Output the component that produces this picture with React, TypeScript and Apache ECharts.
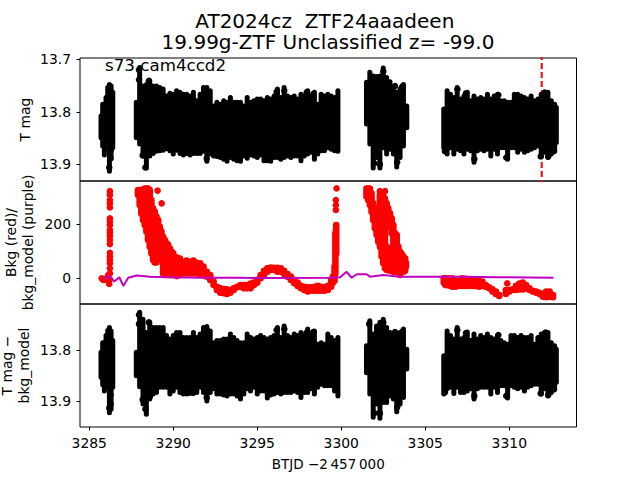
import React, { useEffect, useRef } from "react";
import * as echarts from "echarts";

const FONT = "'DejaVu Sans'";
const xTicks = [3285, 3290, 3295, 3300, 3305, 3310];
const topTicks = [13.7, 13.8, 13.9];
const midTicks = [0, 200];
const botTicks = [13.8, 13.9];

// Times of the sampled envelope of the black error-bar mass
const times = [
  3285.7, 3285.8, 3285.9, 3286.0, 3286.1, 3286.2, 3286.3, 3286.4,
  3287.8, 3288.0, 3288.2, 3288.4, 3288.6, 3288.8, 3289.0, 3289.2, 3289.4, 3289.6, 3289.8,
  3290.0, 3290.2, 3290.4, 3290.6, 3290.8, 3291.0, 3291.2, 3291.4, 3291.6, 3291.8,
  3292.0, 3292.2, 3292.4, 3292.6, 3292.8, 3293.0, 3293.2, 3293.4, 3293.6, 3293.8,
  3294.0, 3294.2, 3294.4, 3294.6, 3294.8, 3295.0, 3295.2, 3295.4, 3295.6, 3295.8,
  3296.0, 3296.2, 3296.4, 3296.6, 3296.8, 3297.0, 3297.2, 3297.4, 3297.6, 3297.8,
  3298.0, 3298.2, 3298.4, 3298.6, 3298.8, 3299.0, 3299.2, 3299.4, 3299.6, 3299.8,
  3301.5, 3301.7, 3301.9, 3302.1, 3302.3, 3302.5, 3302.7, 3302.9, 3303.1, 3303.3, 3303.5, 3303.7, 3303.9,
  3306.1, 3306.3, 3306.5, 3306.7, 3306.9, 3307.1, 3307.3, 3307.5, 3307.7, 3307.9,
  3308.1, 3308.3, 3308.5, 3308.7, 3308.9, 3309.1, 3309.3, 3309.5, 3309.7, 3309.9,
  3310.1, 3310.3, 3310.5, 3310.7, 3310.9, 3311.1, 3311.3, 3311.5, 3311.7, 3311.9,
  3312.1, 3312.3, 3312.5, 3312.7, 3312.8,
];

const topHigh = [
  13.803, 13.781, 13.781, 13.768, 13.749, 13.743, 13.746, 13.758,
  13.777, 13.711, 13.746, 13.743, 13.736, 13.746, 13.746, 13.749, 13.752, 13.765, 13.76,
  13.762, 13.755, 13.758, 13.762, 13.762, 13.765, 13.758, 13.774, 13.762, 13.749,
  13.749, 13.755, 13.784, 13.777, 13.781, 13.774, 13.777, 13.768, 13.777, 13.777,
  13.777, 13.784, 13.768, 13.777, 13.774, 13.771, 13.771, 13.774, 13.768, 13.771,
  13.765, 13.752, 13.768, 13.749, 13.765, 13.768, 13.765, 13.771, 13.762, 13.765,
  13.755, 13.765, 13.758, 13.781, 13.762, 13.765, 13.762, 13.765, 13.768, 13.755,
  13.739, 13.72, 13.727, 13.728, 13.727, 13.712, 13.73, 13.738, 13.749, 13.758, 13.752, 13.743, 13.784,
  13.79, 13.755, 13.762, 13.768, 13.749, 13.771, 13.765, 13.758, 13.774, 13.765,
  13.771, 13.768, 13.771, 13.762, 13.771, 13.765, 13.762, 13.774, 13.774, 13.777,
  13.777, 13.762, 13.762, 13.765, 13.768, 13.771, 13.765, 13.774, 13.771, 13.762,
  13.757, 13.758, 13.774, 13.781, 13.787,
];
const topLow = [
  13.854, 13.87, 13.887, 13.873, 13.87, 13.918, 13.892, 13.873,
  13.854, 13.866, 13.889, 13.912, 13.889, 13.884, 13.88, 13.879, 13.878, 13.875, 13.879,
  13.885, 13.878, 13.884, 13.887, 13.884, 13.887, 13.884, 13.884, 13.884, 13.88,
  13.899, 13.885, 13.889, 13.89, 13.892, 13.895, 13.899, 13.892, 13.895, 13.898,
  13.899, 13.889, 13.893, 13.887, 13.889, 13.892, 13.887, 13.898, 13.898, 13.899,
  13.892, 13.892, 13.895, 13.892, 13.889, 13.892, 13.889, 13.889, 13.898, 13.889,
  13.885, 13.882, 13.895, 13.885, 13.879, 13.879, 13.873, 13.876, 13.879, 13.88,
  13.828, 13.866, 13.912, 13.892, 13.912, 13.873, 13.885, 13.876, 13.885, 13.91, 13.892, 13.87, 13.835,
  13.873, 13.885, 13.873, 13.885, 13.876, 13.879, 13.885, 13.876, 13.879, 13.901,
  13.879, 13.876, 13.879, 13.876, 13.889, 13.876, 13.885, 13.873, 13.873, 13.895,
  13.873, 13.873, 13.882, 13.876, 13.882, 13.879, 13.876, 13.873, 13.87, 13.89,
  13.882, 13.892, 13.885, 13.879, 13.863,
];
const botHigh = [
  13.799, 13.78, 13.78, 13.766, 13.756, 13.75, 13.757, 13.776,
  13.799, 13.72, 13.734, 13.76, 13.74, 13.75, 13.75, 13.75, 13.75, 13.766, 13.773,
  13.766, 13.76, 13.76, 13.77, 13.77, 13.77, 13.76, 13.77, 13.763, 13.75,
  13.748, 13.757, 13.78, 13.776, 13.776, 13.773, 13.773, 13.763, 13.77, 13.776,
  13.78, 13.78, 13.763, 13.77, 13.773, 13.77, 13.766, 13.77, 13.773, 13.77,
  13.766, 13.75, 13.77, 13.747, 13.766, 13.77, 13.763, 13.766, 13.76, 13.766,
  13.753, 13.766, 13.757, 13.783, 13.78, 13.783, 13.763, 13.77, 13.776, 13.77,
  13.786, 13.737, 13.763, 13.747, 13.74, 13.734, 13.75, 13.76, 13.763, 13.766, 13.76, 13.753, 13.793,
  13.806, 13.757, 13.766, 13.773, 13.75, 13.773, 13.77, 13.759, 13.776, 13.763,
  13.773, 13.766, 13.77, 13.763, 13.77, 13.773, 13.766, 13.776, 13.78, 13.783,
  13.766, 13.766, 13.77, 13.766, 13.77, 13.77, 13.766, 13.783, 13.77, 13.763,
  13.76, 13.76, 13.78, 13.786, 13.793,
];
const botLow = [
  13.858, 13.873, 13.885, 13.878, 13.875, 13.928, 13.921, 13.878,
  13.855, 13.877, 13.911, 13.931, 13.901, 13.891, 13.888, 13.878, 13.878, 13.878, 13.891,
  13.885, 13.878, 13.888, 13.891, 13.891, 13.89, 13.89, 13.888, 13.878, 13.888,
  13.905, 13.888, 13.881, 13.891, 13.891, 13.893, 13.895, 13.891, 13.891, 13.895,
  13.901, 13.891, 13.881, 13.885, 13.878, 13.891, 13.885, 13.885, 13.899, 13.893,
  13.891, 13.888, 13.891, 13.888, 13.888, 13.888, 13.885, 13.888, 13.898, 13.888,
  13.888, 13.881, 13.891, 13.878, 13.872, 13.875, 13.875, 13.875, 13.885, 13.895,
  13.849, 13.891, 13.937, 13.911, 13.939, 13.908, 13.908, 13.895, 13.901, 13.926, 13.911, 13.898, 13.842,
  13.891, 13.881, 13.878, 13.89, 13.878, 13.888, 13.888, 13.885, 13.881, 13.901,
  13.881, 13.878, 13.878, 13.878, 13.891, 13.878, 13.888, 13.875, 13.875, 13.899,
  13.875, 13.878, 13.881, 13.878, 13.885, 13.878, 13.875, 13.872, 13.872, 13.891,
  13.881, 13.895, 13.888, 13.881, 13.868,
];

// Isolated black points at the tips of the error-bar mass
const topDots = [
  [3286.19, 13.906], [3286.27, 13.889], [3286.27, 13.873], [3287.96, 13.72], [3287.96, 13.739], [3288.55, 13.741],
  [3288.18, 13.883], [3288.61, 13.879], [3288.34, 13.906], [3291.99, 13.76], [3291.99, 13.889], [3296.15, 13.762],
  [3296.61, 13.76], [3297.94, 13.763], [3298.33, 13.766], [3302.5, 13.723], [3303.2, 13.751], [3303.63, 13.752],
  [3301.97, 13.898], [3302.3, 13.9], [3303.33, 13.896], [3306.91, 13.757], [3307.42, 13.765], [3309.35, 13.768],
  [3307.92, 13.89], [3309.82, 13.887], [3306.17, 13.875], [3312.66, 13.875], [3311.87, 13.885], [3312.32, 13.885],
];
const botDots = [
  [3286.19, 13.914], [3286.27, 13.905], [3286.27, 13.888], [3287.96, 13.73], [3287.96, 13.748], [3288.55, 13.745],
  [3288.18, 13.897], [3288.34, 13.916], [3288.61, 13.891], [3291.99, 13.759], [3291.99, 13.893], [3296.15, 13.76],
  [3296.61, 13.758], [3297.94, 13.765], [3298.33, 13.764], [3301.66, 13.748], [3302.5, 13.745], [3303.2, 13.764],
  [3303.63, 13.763], [3301.97, 13.924], [3302.3, 13.924], [3303.33, 13.912], [3306.91, 13.76], [3307.42, 13.766],
  [3309.35, 13.77], [3312.16, 13.765], [3307.92, 13.89], [3309.82, 13.89], [3306.17, 13.883], [3312.66, 13.877],
  [3311.87, 13.885], [3312.32, 13.888],
];

// Red background: bands [t, high, low]
const redBands = [
  [3287.9, 325, 307], [3288.0, 325, 270], [3288.1, 325, 239], [3288.2, 301, 215], [3288.3, 331, 196], [3288.4, 331, 172],
  [3288.5, 331, 301], [3288.5, 245, 141], [3288.6, 325, 116], [3288.7, 288, 92], [3288.8, 258, 67], [3288.9, 245, 58],
  [3289.0, 227, 58], [3289.1, 215, 67], [3289.2, 190, 80], [3289.3, 172, 86], [3289.4, 153, 18], [3289.5, 141, 12],
  [3289.6, 129, 12], [3289.7, 123, 12], [3289.8, 110, 12], [3289.9, 98, 12], [3290.0, 92, 12], [3290.2, 77, 8],
  [3290.4, 73, 12], [3290.6, 61, 18], [3290.8, 65, 18], [3291.0, 61, 18], [3291.2, 65, 18], [3291.4, 57, 18],
  [3291.6, 55, 12], [3291.8, 43, 12], [3292.0, 24, 6], [3292.2, 12, -6], [3292.4, -12, -25], [3292.6, -31, -43],
  [3292.8, -37, -53], [3293.0, -40, -55], [3293.2, -41, -58], [3293.4, -43, -53], [3293.6, -37, -43], [3293.8, -31, -33],
  [3294.0, -25, -31], [3294.2, -25, -37], [3294.4, -25, -37], [3294.6, -19, -37], [3294.8, -16, -25], [3295.0, -6, -16],
  [3295.2, 12, 0], [3295.4, 28, 12], [3295.6, 37, 24], [3295.8, 40, 31], [3296.0, 39, 31], [3296.2, 39, 24],
  [3296.4, 37, 24], [3296.6, 28, 16], [3296.8, 16, 6], [3297.0, 6, -6], [3297.2, -6, -18], [3297.4, -16, -28],
  [3297.6, -28, -37], [3297.8, -31, -43], [3298.0, -33, -49], [3298.2, -33, -46], [3298.4, -31, -46], [3298.6, -28, -46],
  [3298.8, -31, -46], [3299.0, -33, -46], [3299.2, -28, -43], [3299.4, -6, -31], [3299.5, 6, -16], [3299.6, 43, -9],
  [3299.65, 166, 18], [3299.7, 196, 92],
  [3301.5, 331, 301], [3301.6, 331, 288], [3301.7, 331, 270], [3301.8, 313, 245], [3301.9, 276, 215], [3302.0, 245, 184],
  [3302.1, 227, 160], [3302.2, 258, 135], [3302.3, 307, 116], [3302.4, 307, 80], [3302.5, 307, 55], [3302.6, 294, 37],
  [3302.7, 276, 215], [3302.7, 116, 31], [3302.8, 258, 202], [3302.8, 110, 31], [3302.9, 239, 190], [3302.9, 98, 28],
  [3303.0, 221, 166], [3303.0, 98, 28], [3303.1, 196, 24], [3303.2, 166, 24], [3303.3, 159, 24], [3303.4, 116, 24],
  [3303.5, 98, 12], [3303.6, 89, 24], [3303.7, 80, 24], [3303.8, 73, 28], [3303.85, 55, 43],
  [3306.1, 0, -16], [3306.2, 0, -25], [3306.4, 0, -27], [3306.6, 0, -31], [3306.8, -9, -31], [3307.0, -9, -28],
  [3307.2, 0, -28], [3307.4, -2, -28], [3307.6, -6, -28], [3307.8, -6, -28], [3308.0, -9, -28], [3308.2, -9, -31],
  [3308.4, -12, -28], [3308.6, -25, -31], [3308.8, -33, -37], [3309.0, -41, -49], [3309.2, -49, -58], [3309.4, -62, -65],
  [3309.6, -65, -65], [3309.8, -43, -58], [3310.0, -43, -49], [3310.2, -41, -43], [3310.4, -28, -43], [3310.6, -19, -41],
  [3310.8, -16, -41], [3311.0, -25, -37], [3311.2, -37, -43], [3311.4, -46, -49], [3311.6, -49, -53], [3311.8, -53, -58],
  [3312.0, -58, -68], [3312.2, -49, -70], [3312.4, -49, -68], [3312.6, -62, -70], [3312.75, -74, -74],
];
// Red background: isolated points
const redDots = [
  [3286.23, 321], [3286.23, 307], [3286.23, 288], [3286.23, 276], [3286.23, 261], [3286.23, 221], [3286.23, 208],
  [3286.23, 196], [3286.23, 178], [3286.23, 168], [3286.23, 156], [3286.23, 141], [3286.23, 126], [3286.23, 94],
  [3286.23, 80], [3286.23, 67], [3286.23, 55], [3286.23, 37], [3286.23, 18], [3286.23, -4], [3286.19, -21],
  [3285.74, 0], [3285.83, -6], [3285.93, -6], [3286.03, 0], [3286.13, 12], [3289.07, 323], [3289.31, 276],
  [3302.3, 321], [3302.6, 321], [3299.72, 331], [3299.68, 288], [3299.68, 270], [3299.68, 252], [3309.88, -19],
];
// Purple: background model
const purpleT = [3285.83, 3286.23, 3286.49, 3286.79, 3287.03, 3287.32, 3287.82, 3288.61, 3289.8, 3291.79, 3293.77, 3295.76, 3299.33, 3299.93, 3300.32, 3300.62, 3300.92, 3301.51, 3301.71, 3302.5, 3303.5, 3306.08, 3307.27, 3309.25, 3312.63];
const purpleV = [0, 6, -12, 4, -28, 2, 10, 6, 4, 2, 2, 1, 2, 4, 24, 2, 15, 15, 6, 12, 6, 6, 6, 4, 2];
const eventLine = [[3311.93, 13.69], [3311.93, 13.94]];

const BAR_WIDTH = 5;
function bars(gi: number, hi: number[], lo: number[]) {
  return {
    type: "custom", xAxisIndex: gi, yAxisIndex: gi, clip: true, z: 3,
    data: times.map((t, i) => [t, hi[i], lo[i]]),
    encode: { x: 0, y: [1, 2] },
    renderItem: (_: any, api: any) => {
      const a = api.coord([api.value(0), api.value(1)]);
      const b = api.coord([api.value(0), api.value(2)]);
      // Round caps reach half a stroke beyond the ends, so pull the ends in to keep the envelope.
      return { type: "line", shape: { x1: a[0], y1: a[1] + BAR_WIDTH / 2, x2: b[0], y2: b[1] - BAR_WIDTH / 2 }, style: { stroke: "#000", lineWidth: BAR_WIDTH, lineCap: "round" } };
    },
  };
}
function dots(gi: number, data: number[][], color: string, size: number) {
  return { type: "scatter", xAxisIndex: gi, yAxisIndex: gi, data, symbolSize: size, z: 4, itemStyle: { color, opacity: 1 }, clip: true };
}
const yAxis = (gi: number, min: number, max: number, ticks: number[], inverse: boolean, name: string, nameGap: number) => ({
  type: "value", gridIndex: gi, min, max, inverse, scale: true, splitLine: { show: false },
  axisLine: { show: false },
  axisTick: { show: true, length: 3.5, inside: false, customValues: ticks, lineStyle: { color: "#000", width: 1 } },
  axisLabel: { customValues: ticks, color: "#000", fontFamily: FONT, fontSize: 13.9, margin: 9, formatter: (v: number) => (inverse ? v.toFixed(1) : String(v)) },
  name, nameLocation: "middle", nameRotate: 90, nameGap, nameMoveOverlap: false,
  nameTextStyle: { color: "#000", fontFamily: FONT, fontSize: 13.9, lineHeight: 16.5 },
});
const xAxis = (gi: number, labelled: boolean) => ({
  type: "value", gridIndex: gi, min: 3284.45, max: 3314, splitLine: { show: false }, axisLine: { show: false },
  axisTick: { show: labelled, length: 3.5, customValues: xTicks, lineStyle: { color: "#000", width: 1 } },
  axisLabel: { show: labelled, customValues: xTicks, color: "#000", fontFamily: FONT, fontSize: 13.9, margin: 9, formatter: (v: number) => String(v) },
  ...(labelled ? { name: "BTJD \u22122\u2009457\u2009000", nameLocation: "middle", nameGap: 30, nameMoveOverlap: false, nameTextStyle: { color: "#000", fontFamily: FONT, fontSize: 13.5 } } : {}),
});

export default function App() {
  const ref = useRef<HTMLDivElement>(null);
  useEffect(() => {
    const chart = echarts.init(ref.current!, undefined, { renderer: "svg" });
    const grid = (top: number) => ({ left: 80, width: 496.5, top, height: 123, show: true, outerBoundsMode: "none", containLabel: false, borderColor: "#000", borderWidth: 1, backgroundColor: "transparent" });
    chart.setOption({
      animation: false,
      backgroundColor: "#fff",
      title: {
        text: "AT2024cz  ZTF24aaadeen \n19.99g-ZTF Unclassified z= -99.0", left: 328, top: 10, padding: 0, textAlign: "center",
        textStyle: { fontFamily: FONT, fontSize: 20, fontWeight: "normal", color: "#000", lineHeight: 21 },
      },
      graphic: [{ type: "text", x: 105, y: 56, z: 20, style: { text: "s73 cam4ccd2", fontFamily: FONT, fontSize: 16.7, fill: "#000" } }],
      grid: [grid(58), grid(181), grid(304)],
      xAxis: [xAxis(0, false), xAxis(1, false), xAxis(2, true)],
      yAxis: [
        yAxis(0, 13.6975, 13.9318, topTicks, true, "T mag", 47),
        yAxis(1, -94.7, 358.4, midTicks, false, "Bkg (red)/\nbkg_model (purple)", 44),
        yAxis(2, 13.7087, 13.9513, botTicks, true, "T mag \u2212\nbkg_model", 48),
      ],
      series: [
        { type: "line", xAxisIndex: 0, yAxisIndex: 0, data: eventLine, showSymbol: false, z: 2, lineStyle: { color: "#f00", width: 2, type: [6, 3] } },
        bars(0, topHigh, topLow),
        dots(0, topDots, "#000", 6.5),
        {
          type: "custom", xAxisIndex: 1, yAxisIndex: 1, clip: true, z: 3, data: redBands, encode: { x: 0, y: [1, 2] },
          renderItem: (_: any, api: any) => {
            const a = api.coord([api.value(0), api.value(1)]);
            const b = api.coord([api.value(0), api.value(2)]);
            return { type: "line", shape: { x1: a[0], y1: a[1], x2: b[0], y2: b[1] }, style: { stroke: "#f00", lineWidth: 6.6, lineCap: "round" } };
          },
        },
        dots(1, redDots, "#f00", 6.6),
        { type: "line", xAxisIndex: 1, yAxisIndex: 1, data: purpleT.map((t, i) => [t, purpleV[i]]), showSymbol: false, z: 5, lineStyle: { color: "#c000c0", width: 2 } },
        bars(2, botHigh, botLow),
        dots(2, botDots, "#000", 6.5),
      ],
    });
    return () => chart.dispose();
  }, []);
  return <div ref={ref} style={{ position: "fixed", left: 0, top: 0, width: 640, height: 480 }} />;
}
